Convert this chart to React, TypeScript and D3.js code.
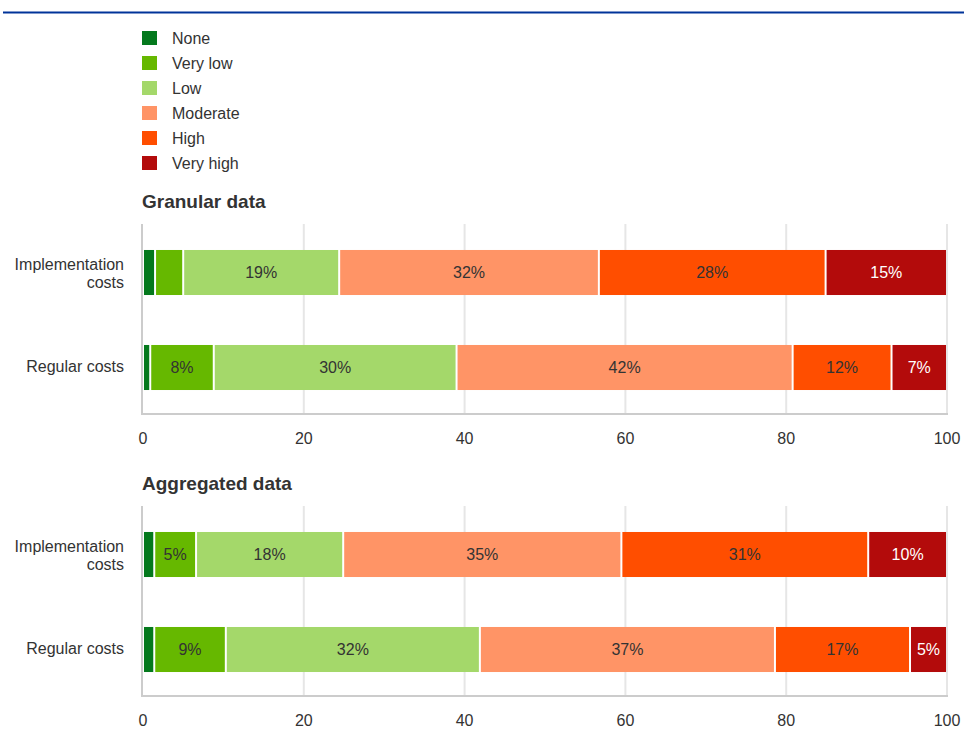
import { useEffect } from "react";
import * as d3 from "d3";

const WIDTH = 964;
const HEIGHT = 731;
const FONT = "'Liberation Sans', Arial, sans-serif";

const levels = ["None", "Very low", "Low", "Moderate", "High", "Very high"];
const levelColors = ["#04791d", "#66b800", "#a4d86a", "#ff9466", "#ff4e00", "#b30b0b"];
const categories = ["Implementation costs", "Regular costs"];
const ticks = [0, 20, 40, 60, 80, 100];

// one row per category, one value per level (percent)
const granularData = [
    [1.5, 3.5, 19.4, 32.3, 28.2, 15.1],
    [0.9, 7.9, 30.2, 41.8, 12.3, 6.9],
];
const aggregatedData = [
    [1.4, 5.2, 18.3, 34.6, 30.7, 9.8],
    [1.4, 8.9, 31.6, 36.7, 16.8, 4.6],
];

const PLOT_LEFT = 143;
const PLOT_RIGHT = 947;
const PLOT_HEIGHT = 190;

type PanelProps = {
    title: string;
    data: number[][];
    top: number; // y where gridlines begin
};

const Panel = ({ title, data, top }: PanelProps) => {
    const xScale = d3.scaleLinear().domain([0, 100]).range([PLOT_LEFT, PLOT_RIGHT]);
    const yScale = d3
        .scaleBand()
        .domain(categories)
        .range([top + 1, top + PLOT_HEIGHT + 1])
        .paddingInner(0.526)
        .paddingOuter(0.263);

    const bottom = top + PLOT_HEIGHT;

    const grid = ticks.slice(1).map((t) => (
        <line key={t} x1={xScale(t)} x2={xScale(t)} y1={top} y2={bottom} stroke="#e6e6e6" strokeWidth={2} />
    ));

    const bars = categories.map((cat, ci) => {
        const y = yScale(cat)!;
        const h = yScale.bandwidth();
        const stack = d3.cumsum([0, ...data[ci]]);
        return (
            <g key={cat}>
                {data[ci].map((v, li) => {
                    const x0 = xScale(stack[li]);
                    const x1 = xScale(stack[li + 1]);
                    const w = Math.max(0, x1 - x0 - 2);
                    return (
                        <g key={li}>
                            <rect x={x0 + 1} y={y} width={w} height={h} fill={levelColors[li]} />
                            {v >= 4.5 && (
                                <text
                                    x={(x0 + x1) / 2}
                                    y={y + h / 2}
                                    dy="0.35em"
                                    textAnchor="middle"
                                    fontSize={16}
                                    fill={li === 5 ? "#ffffff" : "#333333"}
                                >
                                    {Math.round(v)}%
                                </text>
                            )}
                        </g>
                    );
                })}
            </g>
        );
    });

    const catLabels = categories.map((cat) => {
        const cy = yScale(cat)! + yScale.bandwidth() / 2;
        // the long label wraps onto two lines
        const lines = cat === "Implementation costs" ? ["Implementation", "costs"] : [cat];
        const lh = 18;
        const startY = cy - 1 + (lines.length > 1 ? 2 : 0) - ((lines.length - 1) * lh) / 2;
        return (
            <text key={cat} textAnchor="end" fontSize={16} fill="#333333">
                {lines.map((l, i) => (
                    <tspan key={i} x={124} y={startY + i * lh} dy="0.35em">
                        {l}
                    </tspan>
                ))}
            </text>
        );
    });

    return (
        <g>
            <text x={142} y={top - 16} fontSize={19} fontWeight="bold" fill="#333333">
                {title}
            </text>
            {grid}
            <line x1={PLOT_LEFT - 1} x2={PLOT_LEFT - 1} y1={top} y2={bottom + 1} stroke="#cccccc" strokeWidth={2} />
            <line x1={PLOT_LEFT - 2} x2={PLOT_RIGHT + 1} y1={bottom} y2={bottom} stroke="#cccccc" strokeWidth={2} />
            {bars}
            {catLabels}
            {ticks.map((t) => (
                <text key={t} x={xScale(t)} y={bottom + 24} dy="0.35em" textAnchor="middle" fontSize={16} fill="#333333">
                    {t}
                </text>
            ))}
        </g>
    );
};

export default function App() {
    useEffect(() => {
        document.body.style.margin = "0";
    }, []);

    return (
        <svg width={WIDTH} height={HEIGHT} style={{ display: "block", fontFamily: FONT }}>
            <rect width={WIDTH} height={HEIGHT} fill="#ffffff" />
            <line x1={3} x2={WIDTH} y1={12.5} y2={12.5} stroke="#003399" strokeWidth={2} />
            {levels.map((lv, i) => (
                <g key={lv} transform={`translate(142, ${38 + i * 25})`}>
                    <rect x={0} y={-7} width={15} height={14} fill={levelColors[i]} />
                    <text x={30} y={0} dy="0.35em" fontSize={16} fill="#333333">
                        {lv}
                    </text>
                </g>
            ))}
            <Panel title="Granular data" data={granularData} top={224} />
            <Panel title="Aggregated data" data={aggregatedData} top={506} />
        </svg>
    );
}
